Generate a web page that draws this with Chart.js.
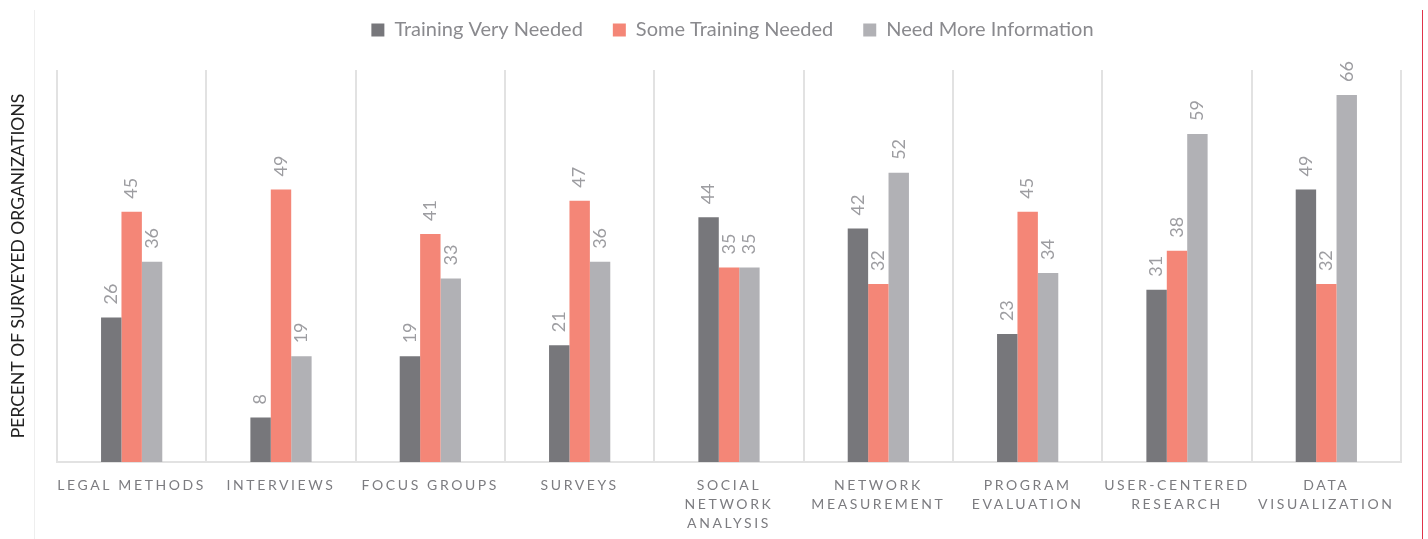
<!DOCTYPE html>
<html lang="en">
<head>
<meta charset="UTF-8">
<title>Training needs</title>
<script src="https://cdn.jsdelivr.net/npm/chart.js@4.4.0/dist/chart.umd.min.js"></script>
<style>
  html, body { margin: 0; padding: 0; background: #fff; }
  #wrap { position: relative; width: 1428px; height: 539px; }
  #leftLine { position: absolute; left: 34px; top: 10px; bottom: 0; width: 1px; background: #eeeeee; }
  #rightLine { position: absolute; left: 1422px; top: 10px; bottom: 0; width: 1px; background: #e0344a; }
</style>
</head>
<body>
<div id="wrap">
  <canvas id="chart" width="1428" height="539"></canvas>
  <div id="leftLine"></div>
  <div id="rightLine"></div>
</div>
<script>
// categories (multi-line labels)
const categories = [
  ['LEGAL METHODS'],
  ['INTERVIEWS'],
  ['FOCUS GROUPS'],
  ['SURVEYS'],
  ['SOCIAL', 'NETWORK', 'ANALYSIS'],
  ['NETWORK', 'MEASUREMENT'],
  ['PROGRAM', 'EVALUATION'],
  ['USER-CENTERED', 'RESEARCH'],
  ['DATA', 'VISUALIZATION']
];
const veryNeeded = [26, 8, 19, 21, 44, 42, 23, 31, 49];
const someNeeded = [45, 49, 41, 47, 35, 32, 45, 38, 32];
const moreInfo   = [36, 19, 33, 36, 35, 52, 34, 59, 66];

const FONT = 'Lato, "Open Sans", sans-serif';

// rotated value labels above each bar
const barLabels = {
  id: 'barLabels',
  afterDatasetsDraw(chart) {
    const ctx = chart.ctx;
    ctx.save();
    ctx.fillStyle = '#9d9da1';
    ctx.font = '18px ' + FONT;
    ctx.textAlign = 'left';
    ctx.textBaseline = 'middle';
    chart.data.datasets.forEach((ds, i) => {
      chart.getDatasetMeta(i).data.forEach((bar, j) => {
        ctx.save();
        ctx.translate(bar.x, bar.y - 13);
        ctx.rotate(-Math.PI / 2);
        ctx.fillText(String(ds.data[j]), 0, 0);
        ctx.restore();
      });
    });
    ctx.restore();
  }
};

// extra room under the legend (and nudge it right), letter spacing on the x labels
const tweaks = {
  id: 'tweaks',
  afterInit(chart) {
    const lg = chart.legend;
    const fit = lg.fit;
    lg.fit = function () {
      fit.call(this);
      this.height += 20;
    };
    const drawLg = lg.draw;
    lg.draw = function () {
      this.ctx.save();
      this.ctx.translate(32, 0);
      drawLg.call(this);
      this.ctx.restore();
    };
  },
  afterLayout(chart) {
    const xs = chart.scales.x;
    if (xs._spaced) return;
    const draw = xs.drawLabels;
    xs.drawLabels = function (area) {
      this.ctx.save();
      this.ctx.letterSpacing = '2.6px';
      draw.call(this, area);
      this.ctx.restore();
    };
    xs._spaced = true;
  }
};

const ctx = document.getElementById('chart').getContext('2d');
new Chart(ctx, {
  type: 'bar',
  data: {
    labels: categories,
    datasets: [{
      label: 'Training Very Needed',
      data: veryNeeded,
      backgroundColor: '#77777b'
    }, {
      label: 'Some Training Needed',
      data: someNeeded,
      backgroundColor: '#f48677'
    }, {
      label: 'Need More Information',
      data: moreInfo,
      backgroundColor: '#b1b1b5'
    }]
  },
  options: {
    responsive: false,
    animation: false,
    layout: { padding: { top: -10, right: 27, left: 0, bottom: 0 } },
    datasets: { bar: { barPercentage: 1, categoryPercentage: 0.41 } },
    plugins: {
      legend: {
        position: 'top',
        labels: {
          boxWidth: 13,
          boxHeight: 13,
          padding: 30,
          color: '#8a8a8e',
          font: { family: FONT, size: 20 }
        }
      },
      tooltip: { enabled: false }
    },
    scales: {
      x: {
        grid: { display: true, offset: true, color: '#e2e2e2', lineWidth: 2, drawTicks: false },
        border: { display: true, color: '#e2e2e2', width: 2 },
        ticks: {
          color: '#7c7c80',
          font: { family: FONT, size: 14, lineHeight: 1.35 },
          padding: 14,
          maxRotation: 0,
          autoSkip: false
        },
        afterFit(scale) { scale.height = 77; }
      },
      y: {
        min: 0,
        max: 70.5,
        grid: { display: false },
        border: { display: false },
        ticks: { display: false },
        title: {
          display: true,
          text: 'PERCENT OF SURVEYED ORGANIZATIONS',
          color: '#222',
          padding: { top: 8, bottom: 0 },
          font: { family: FONT, size: 17.5 }
        },
        afterFit(scale) { scale.width = 57; }
      }
    }
  },
  plugins: [barLabels, tweaks]
});
</script>
</body>
</html>
